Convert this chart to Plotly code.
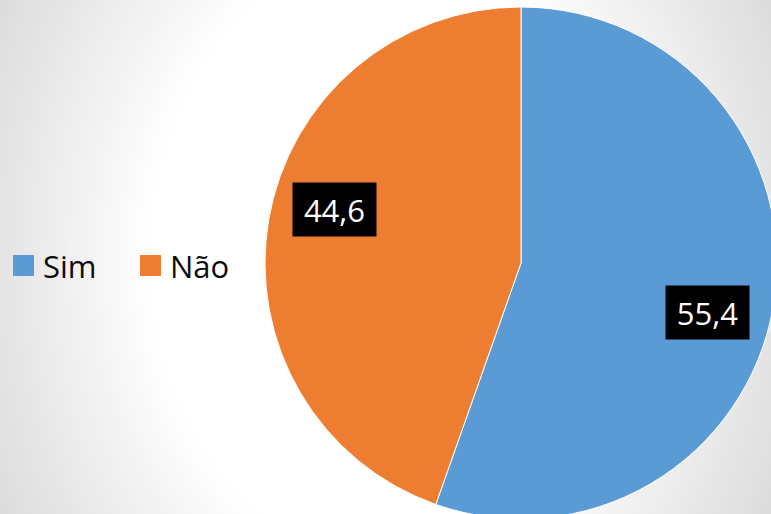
import plotly.graph_objects as go

# data
labels = ["Sim", "Não"]
values = [55.4, 44.6]
colors = ["#5B9BD5", "#ED7D31"]

# the pie runs a little past the right and bottom edges of the 771x514 view,
# so the figure is drawn slightly larger and the page crops it
W, H = 777, 520
FONT = "Open Sans"


def px(x):
    return x / W


def py(y):
    return 1 - y / H


fig = go.Figure()

fig.add_trace(go.Pie(
    labels=labels,
    values=values,
    sort=False,
    direction="clockwise",
    rotation=0,
    marker=dict(colors=colors, line=dict(color="white", width=1)),
    textinfo="none",
    hoverinfo="label+value",
    domain=dict(x=[px(265), 1.0], y=[0.0, py(6)]),
    showlegend=False,
))

# radial background (white centre fading to light grey)
shapes = []
cx, cy, a, b = 385, 257, 235, 300
d = 2.0
while d >= 1.0:
    g = int(round(255 - 35 * (d - 1) / 0.85))
    g = max(218, min(255, g))
    shapes.append(dict(
        type="circle", xref="paper", yref="paper", layer="below",
        x0=px(cx - a * d), x1=px(cx + a * d),
        y0=py(cy + b * d), y1=py(cy - b * d),
        fillcolor=f"rgb({g},{g},{g})", line=dict(width=0),
    ))
    d = round(d - 0.02, 4)

# legend drawn by hand so the squares can be big
annotations = []
legend_x = [13, 140]
for lab, col, lx in zip(labels, colors, legend_x):
    shapes.append(dict(
        type="rect", xref="paper", yref="paper",
        x0=px(lx), x1=px(lx + 21), y0=py(276), y1=py(255),
        fillcolor=col, line=dict(width=0),
    ))
    annotations.append(dict(
        x=px(lx + 28), y=py(266), xref="paper", yref="paper",
        text=lab, showarrow=False, xanchor="left", yanchor="middle",
        font=dict(family=FONT, size=31, color="#0d0d0d"),
    ))

# data labels in black boxes
label_pos = [(707, 312), (334, 209)]
for v, (lx, ly) in zip(values, label_pos):
    annotations.append(dict(
        x=px(lx), y=py(ly), xref="paper", yref="paper",
        text=f"{v:.1f}".replace(".", ","), showarrow=False,
        xanchor="center", yanchor="middle",
        width=83, height=53, borderpad=0, bgcolor="black",
        font=dict(family=FONT, size=31, color="white"),
    ))

fig.update_layout(
    width=W, height=H,
    margin=dict(l=0, r=0, t=0, b=0),
    paper_bgcolor="rgb(218,218,218)",
    plot_bgcolor="rgba(0,0,0,0)",
    shapes=shapes,
    annotations=annotations,
    showlegend=False,
)

# page body has a default 8px margin; drop it so the chart fills the window
fig.write_html(
    "out.html",
    config={"displayModeBar": False},
    post_script="document.body.style.margin='0';document.body.style.overflow='hidden';",
)
